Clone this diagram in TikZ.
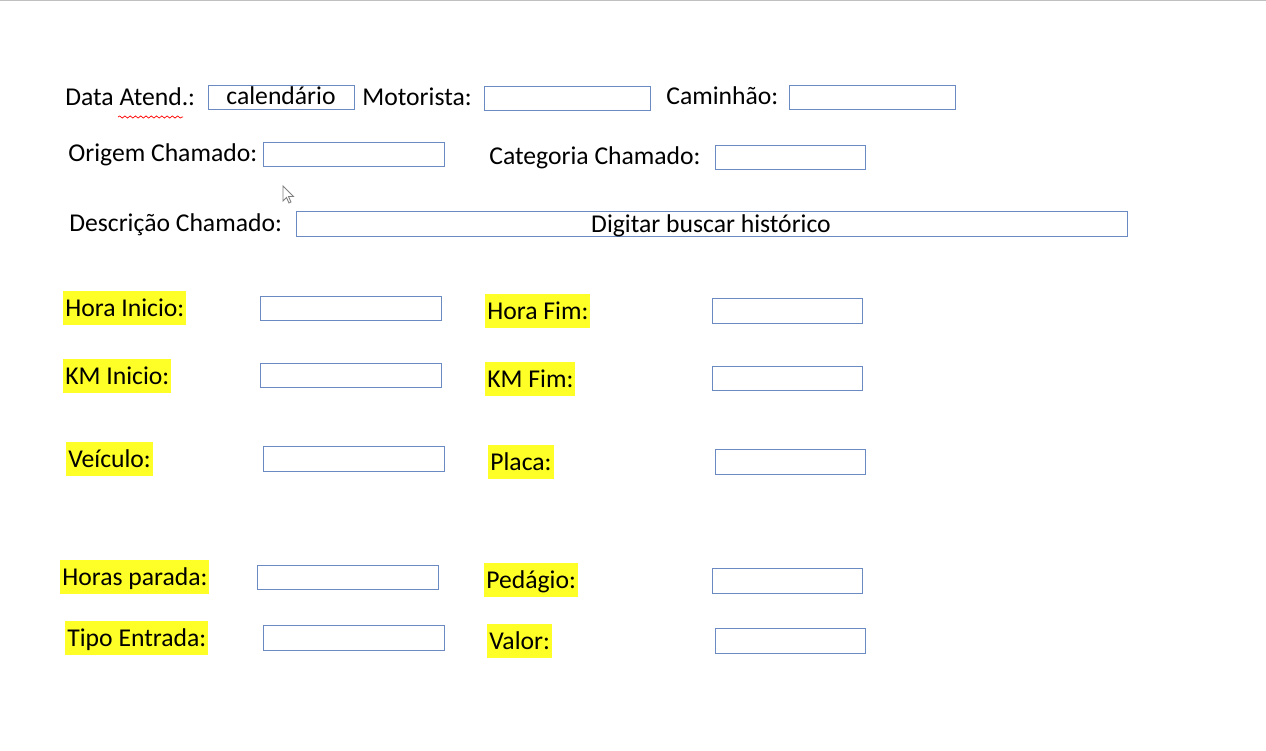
\documentclass[tikz,border=0pt]{standalone}
\usepackage{fontspec}
\setmainfont{Carlito}
\usetikzlibrary{decorations.pathmorphing}
\definecolor{bordaCampo}{RGB}{108,138,194}
\definecolor{marcaTexto}{RGB}{255,255,40}
\definecolor{linhaTopo}{RGB}{192,192,192}
\tikzset{
  rotulo/.style={anchor=west, inner xsep=0.04cm, inner ysep=0.1cm,
    text height=0.4cm, text depth=0.08cm,
    font=\fontsize{14.6}{17}\selectfont},
  rotuloMarcado/.style={rotulo, fill=marcaTexto},
  campo/.style={draw=bordaCampo, line width=0.55pt}
}
\begin{document}
\begin{tikzpicture}[x=0.02cm, y=-0.02cm]
    \useasboundingbox (0, 0) rectangle (1266, 750);
    \draw [linhaTopo, line width=1pt] (0, 0.6) -- (1266, 0.6);

    % primeira parte
    \node (data) [rotulo] at (63, 98) {Data Atend.:};
    \draw [red, line width=0.4pt, decorate, decoration={snake, amplitude=0.6, segment length=3}] (118, 117) -- (183, 117);
    \draw [campo] (208, 85) -- (354, 85) -- (354, 109) -- (208, 109) -- (208, 85);
    \node (cal) [rotulo, anchor=center] at (281, 97) {calendário};
    \node (motorista) [rotulo] at (360, 98) {Motorista:};
    \draw [campo] (484, 86) -- (650, 86) -- (650, 110) -- (484, 110) -- (484, 86);
    \node (caminhao) [rotulo] at (664, 97) {Caminhão:};
    \draw [campo] (789, 85) -- (955, 85) -- (955, 109) -- (789, 109) -- (789, 85);

    \node (origem) [rotulo] at (66, 154) {Origem Chamado:};
    \draw [campo] (263, 142) -- (444, 142) -- (444, 166) -- (263, 166) -- (263, 142);
    \node (categoria) [rotulo] at (487, 157) {Categoria Chamado:};
    \draw [campo] (715, 145) -- (865, 145) -- (865, 169) -- (715, 169) -- (715, 145);

    \draw [gray, line width=0.5pt, fill=white] (283, 186) -- (283, 201) -- (286.5, 197.5) -- (289, 203) -- (291, 202) -- (288.5, 196.5) -- (293.5, 196.5) -- cycle;

    \node (descricao) [rotulo] at (67, 223) {Descrição Chamado:};
    \draw [campo] (296, 211) -- (1127, 211) -- (1127, 236) -- (296, 236) -- (296, 211);
    \node (historico) [rotulo, anchor=center] at (711, 224) {Digitar buscar histórico};

    % parte marcada
    \node (horaIni) [rotuloMarcado] at (63, 308) {Hora Inicio:};
    \draw [campo] (260, 296) -- (441, 296) -- (441, 320) -- (260, 320) -- (260, 296);
    \node (horaFim) [rotuloMarcado] at (485, 311) {Hora Fim:};
    \draw [campo] (712, 298) -- (862, 298) -- (862, 323) -- (712, 323) -- (712, 298);

    \node (kmIni) [rotuloMarcado] at (63, 376) {KM Inicio:};
    \draw [campo] (260, 363) -- (441, 363) -- (441, 387) -- (260, 387) -- (260, 363);
    \node (kmFim) [rotuloMarcado] at (485, 379) {KM Fim:};
    \draw [campo] (712, 366) -- (862, 366) -- (862, 390) -- (712, 390) -- (712, 366);

    \node (veiculo) [rotuloMarcado] at (66, 459) {Veículo:};
    \draw [campo] (263, 446) -- (444, 446) -- (444, 471) -- (263, 471) -- (263, 446);
    \node (placa) [rotuloMarcado] at (488, 462) {Placa:};
    \draw [campo] (715, 449) -- (865, 449) -- (865, 474) -- (715, 474) -- (715, 449);

    \node (horasParada) [rotuloMarcado] at (60, 577) {Horas parada:};
    \draw [campo] (257, 565) -- (438, 565) -- (438, 589) -- (257, 589) -- (257, 565);
    \node (pedagio) [rotuloMarcado] at (484, 580) {Pedágio:};
    \draw [campo] (712, 568) -- (862, 568) -- (862, 593) -- (712, 593) -- (712, 568);

    \node (tipoEntrada) [rotuloMarcado] at (65, 638) {Tipo Entrada:};
    \draw [campo] (263, 625) -- (444, 625) -- (444, 650) -- (263, 650) -- (263, 625);
    \node (valor) [rotuloMarcado] at (487, 641) {Valor:};
    \draw [campo] (715, 628) -- (865, 628) -- (865, 653) -- (715, 653) -- (715, 628);
  \end{tikzpicture}
\end{document}
